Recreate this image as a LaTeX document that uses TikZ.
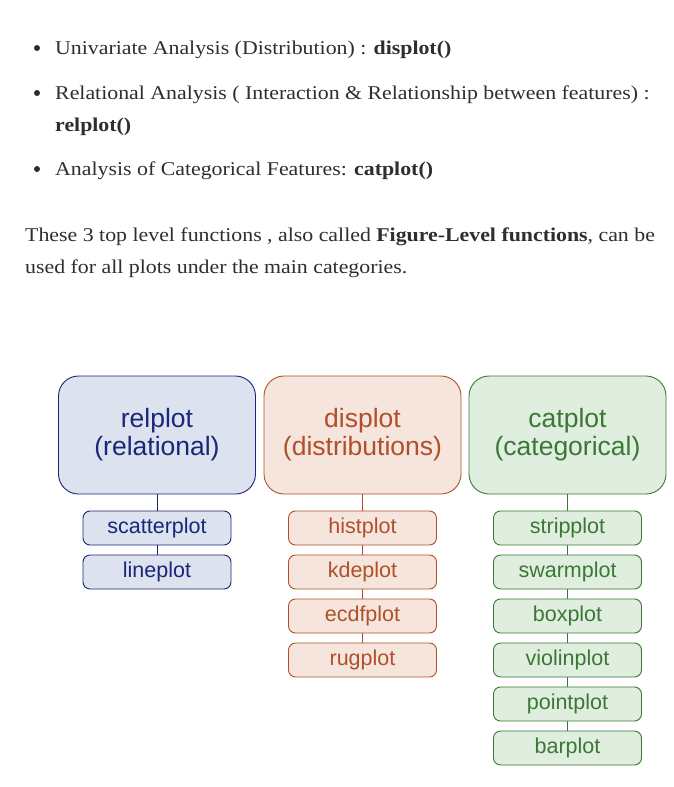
\documentclass[tikz,border=0pt]{standalone}
\usepackage{fontspec}
\setmainfont{Liberation Serif}[FakeStretch=1.12]
\newfontfamily\boxfont{Liberation Sans}
\usetikzlibrary{shapes.geometric, arrows}
\definecolor{textgray}{HTML}{2E2E2E}
\definecolor{relline}{HTML}{1A267A}
\definecolor{relfill}{HTML}{DCE2EE}
\definecolor{disline}{HTML}{B0502A}
\definecolor{disfill}{HTML}{F5E5DC}
\definecolor{catline}{HTML}{3A7833}
\definecolor{catfill}{HTML}{E0EEDF}
\tikzstyle{txt} = [anchor=base west, inner sep=0pt, text=textgray, font=\fontsize{19.5}{24}\selectfont]
\tikzstyle{dot} = [circle, fill=textgray, inner sep=0pt, minimum size=6pt]
\tikzstyle{bigbox} = [rectangle, rounded corners=20pt, minimum width=197pt, minimum height=118pt, text centered, align=center, line width=0.9pt, font=\boxfont\fontsize{26.5}{28}\selectfont]
\tikzstyle{smallbox} = [rectangle, rounded corners=7pt, minimum width=148pt, minimum height=34pt, text centered, line width=0.9pt, font=\boxfont\fontsize{21.5}{24}\selectfont]
\tikzstyle{rel} = [draw=relline, fill=relfill, text=relline]
\tikzstyle{dis} = [draw=disline, fill=disfill, text=disline]
\tikzstyle{cat} = [draw=catline, fill=catfill, text=catline]
\tikzstyle{link} = [line width=0.9pt]

\begin{document}
\begin{tikzpicture}[x=1pt, y=-1pt, node distance=44pt]
\useasboundingbox[fill=white] (0,0) rectangle (673,787);
% intro text
\node (b1) [dot] at (37,48) {};
\node (l1) [txt] at (55,54) {Univariate Analysis (Distribution) : \textbf{displot()}};
\node (b2) [dot] at (37,93) {};
\node (l2) [txt] at (55,99) {Relational Analysis ( Interaction \& Relationship between features) :};
\node (l2b) [txt] at (55,131) {\textbf{relplot()}};
\node (b3) [dot] at (37,169) {};
\node (l3) [txt] at (55,175) {Analysis of Categorical Features: \textbf{catplot()}};
\node (p1) [txt] at (25,241) {These 3 top level functions , also called \textbf{Figure-Level functions}, can be};
\node (p2) [txt] at (25,273) {used for all plots under the main categories.};
% main categories
\node (relplot) [bigbox, rel] at (157,435) {relplot\\(relational)};
\node (displot) [bigbox, dis] at (362.5,435) {displot\\(distributions)};
\node (catplot) [bigbox, cat] at (567.5,435) {catplot\\(categorical)};
% relplot column
\node (scatter) [smallbox, rel] at (157,528) {scatterplot};
\node (line) [smallbox, rel, below of=scatter] {lineplot};
\draw [link, relline] (relplot) -- (scatter);
\draw [link, relline] (scatter) -- (line);
% displot column
\node (hist) [smallbox, dis] at (362.5,528) {histplot};
\node (kde) [smallbox, dis, below of=hist] {kdeplot};
\node (ecdf) [smallbox, dis, below of=kde] {ecdfplot};
\node (rug) [smallbox, dis, below of=ecdf] {rugplot};
\draw [link, disline] (displot) -- (hist);
\draw [link, disline] (hist) -- (kde);
\draw [link, disline] (kde) -- (ecdf);
\draw [link, disline] (ecdf) -- (rug);
% catplot column
\node (strip) [smallbox, cat] at (567.5,528) {stripplot};
\node (swarm) [smallbox, cat, below of=strip] {swarmplot};
\node (box) [smallbox, cat, below of=swarm] {boxplot};
\node (violin) [smallbox, cat, below of=box] {violinplot};
\node (point) [smallbox, cat, below of=violin] {pointplot};
\node (bar) [smallbox, cat, below of=point] {barplot};
\draw [link, catline] (catplot) -- (strip);
\draw [link, catline] (strip) -- (swarm);
\draw [link, catline] (swarm) -- (box);
\draw [link, catline] (box) -- (violin);
\draw [link, catline] (violin) -- (point);
\draw [link, catline] (point) -- (bar);
\end{tikzpicture}
\end{document}
